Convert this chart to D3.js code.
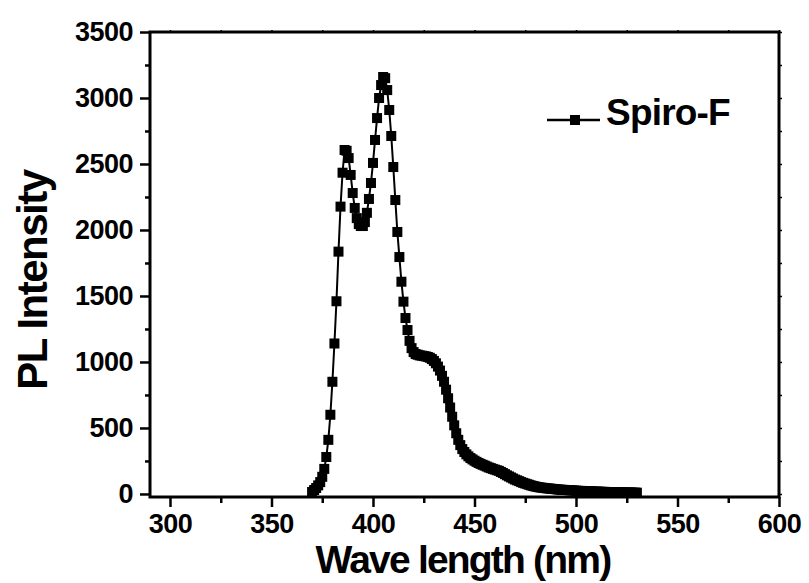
<!DOCTYPE html>
<html>
<head>
<meta charset="utf-8">
<script src="https://cdn.jsdelivr.net/npm/d3@7.9.0/dist/d3.min.js"></script>
<style>
  html, body { margin: 0; padding: 0; background: #fff; }
  svg text { font-family: "Liberation Sans", Arial, sans-serif; font-weight: bold; fill: #000; }
</style>
</head>
<body>
<svg id="chart" width="809" height="583"></svg>
<script>
// wavelength (nm), 1 nm steps from 370 to 530
const wavelengths = d3.range(370, 531);
const intensity = [
  15, 30, 45, 65, 90, 130, 190, 280, 410, 600,            // 370-379
  850, 1140, 1460, 1836, 2177, 2434, 2606, 2600, 2545, 2417, // 380-389
  2280, 2167, 2090, 2045, 2030, 2030, 2060, 2130, 2235, 2356, // 390-399
  2508, 2682, 2848, 3000, 3098, 3159, 3150, 3060, 2909, 2712, // 400-409
  2477, 2227, 1985, 1795, 1608, 1457, 1333, 1242, 1160, 1105, // 410-419
  1075, 1060, 1055, 1050, 1048, 1045, 1042, 1038, 1032, 1022, // 420-429
  1008, 990, 965, 935, 895, 850, 790, 725, 655, 585,          // 430-439
  520, 460, 410, 370, 340, 318, 300, 285, 272, 262,           // 440-449
  252, 243, 235, 228, 221, 215, 208, 201, 196, 190,           // 450-459
  185, 180, 175, 167, 159, 150, 141, 133, 125, 117,           // 460-469
  109, 103, 97, 90, 84, 79, 74, 69, 64, 60,                   // 470-479
  56, 53, 50, 48, 46, 44, 42, 41, 39, 38,                     // 480-489
  36, 34, 33, 32, 31, 30, 29, 28, 27, 26,                     // 490-499
  25, 24, 23, 23, 22, 21, 20, 20, 19, 18,                     // 500-509
  18, 17, 17, 16, 16, 15, 15, 14, 14, 13,                     // 510-519
  13, 13, 12, 12, 12, 11, 11, 11, 10, 10, 10                  // 520-530
];
const seriesName = "Spiro-F";

const xMajor = [300, 350, 400, 450, 500, 550, 600];
const xMinor = [325, 375, 425, 475, 525, 575];
const yMajor = [0, 500, 1000, 1500, 2000, 2500, 3000, 3500];
const yMinor = [250, 750, 1250, 1750, 2250, 2750, 3250];

const data = wavelengths.map((w, i) => ({ w, v: intensity[i] }));

const plotLeft = 150, plotRight = 779, plotTop = 32, plotBottom = 497;
const svg = d3.select("#chart");

const x = d3.scaleLinear().domain([290.15, 600]).range([plotLeft, plotRight]);
const y = d3.scaleLinear().domain([-23, 3500]).range([plotBottom, plotTop]);
const fmt = d3.format("d");

function styleAxis(g, width) {
  g.select(".domain").remove();
  g.selectAll(".tick line").attr("stroke", "#000").attr("stroke-width", width);
}

// major / minor ticks
svg.append("g")
  .attr("transform", `translate(0,${plotBottom})`)
  .call(d3.axisBottom(x).tickValues(xMajor).tickFormat(fmt).tickSize(10).tickPadding(7))
  .call(g => styleAxis(g, 2.5))
  .selectAll("text")
  .attr("font-size", 27)
  .attr("letter-spacing", -0.5);

svg.append("g")
  .attr("transform", `translate(0,${plotBottom})`)
  .call(d3.axisBottom(x).tickValues(xMinor).tickSize(6).tickFormat(""))
  .call(g => styleAxis(g, 2.5));

svg.append("g")
  .attr("transform", `translate(${plotLeft},0)`)
  .call(d3.axisLeft(y).tickValues(yMajor).tickFormat(fmt).tickSize(10).tickPadding(7))
  .call(g => styleAxis(g, 2.5))
  .selectAll("text")
  .attr("font-size", 27)
  .attr("letter-spacing", -0.5);

svg.append("g")
  .attr("transform", `translate(${plotLeft},0)`)
  .call(d3.axisLeft(y).tickValues(yMinor).tickSize(5).tickFormat(""))
  .call(g => styleAxis(g, 2.5));

// mirrored small ticks on top and right
svg.append("g")
  .attr("transform", `translate(0,${plotTop})`)
  .call(d3.axisTop(x).tickValues(xMajor.concat(xMinor)).tickSize(2).tickFormat(""))
  .call(g => styleAxis(g, 1.5));

svg.append("g")
  .attr("transform", `translate(${plotRight},0)`)
  .call(d3.axisRight(y).tickValues(yMajor.concat(yMinor)).tickSize(3).tickFormat(""))
  .call(g => styleAxis(g, 1.5));

// frame
svg.append("rect")
  .attr("x", plotLeft).attr("y", plotTop)
  .attr("width", plotRight - plotLeft).attr("height", plotBottom - plotTop)
  .attr("fill", "none").attr("stroke", "#000").attr("stroke-width", 3);

// series
const line = d3.line().x(d => x(d.w)).y(d => y(d.v));
svg.append("path")
  .datum(data)
  .attr("d", line)
  .attr("fill", "none")
  .attr("stroke", "#000")
  .attr("stroke-width", 2);

const ms = 10;
svg.append("g")
  .selectAll("rect")
  .data(data)
  .join("rect")
  .attr("x", d => x(d.w) - ms / 2)
  .attr("y", d => y(d.v) - ms / 2)
  .attr("width", ms)
  .attr("height", ms)
  .attr("fill", "#000");

// legend
const legend = svg.append("g").attr("transform", "translate(547,120)");
legend.append("line")
  .attr("x1", 0).attr("x2", 53).attr("y1", 0).attr("y2", 0)
  .attr("stroke", "#000").attr("stroke-width", 2.5);
legend.append("rect")
  .attr("x", 28 - 5).attr("y", -5).attr("width", 10).attr("height", 10)
  .attr("fill", "#000");
legend.append("text")
  .attr("x", 59).attr("y", 5)
  .attr("font-size", 37)
  .attr("letter-spacing", -0.8)
  .text(seriesName);

// axis titles
svg.append("text")
  .attr("x", 463).attr("y", 573)
  .attr("text-anchor", "middle")
  .attr("font-size", 39)
  .attr("letter-spacing", -1.8)
  .text("Wave length (nm)");

svg.append("text")
  .attr("transform", "translate(47,280) rotate(-90)")
  .attr("text-anchor", "middle")
  .attr("font-size", 42)
  .attr("letter-spacing", -1.5)
  .text("PL Intensity");
</script>
</body>
</html>
